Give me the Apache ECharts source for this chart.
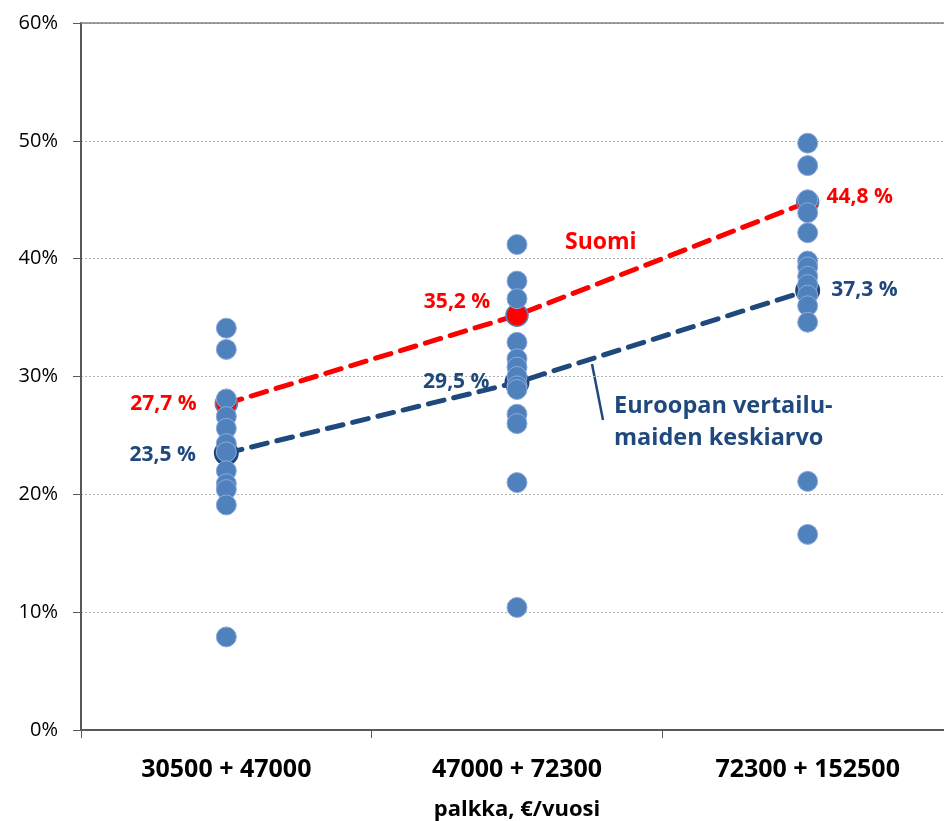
<!DOCTYPE html>
<html><head><meta charset="utf-8">
<script src="https://cdn.jsdelivr.net/npm/echarts@6/dist/echarts.min.js"></script>
<style>html,body{margin:0;padding:0;background:#fff}#c{width:944px;height:821px}</style>
</head><body><div id="c"></div>
<script>
const categories = ['30500 + 47000', '47000 + 72300', '72300 + 152500'];
const yTicks = [0, 10, 20, 30, 40, 50, 60];
const countries1 = [34.1, 32.3, 28.1, 26.6, 25.6, 24.3, 23.6, 22.0, 20.9, 20.4, 19.1, 7.9];
const countries2 = [41.2, 38.1, 36.6, 32.9, 31.5, 30.8, 30.0, 29.2, 28.9, 26.8, 26.0, 21.0, 10.4];
const countries3 = [49.8, 47.9, 45.0, 43.9, 42.2, 39.8, 39.3, 38.5, 37.8, 36.9, 36.0, 34.6, 21.1, 16.6];
const finland = [27.7, 35.2, 44.8];
const europeAvg = [23.5, 29.5, 37.3];
const fmt = v => v.toFixed(1).replace('.', ',') + ' %';

const font = '"Open Sans", "Noto Sans", sans-serif';
const RED = '#FF0000', NAVY = '#1F497D', BLUE = '#4F81BD';

const dots = [];
[countries1, countries2, countries3].forEach((arr, i) => arr.forEach(v => dots.push([categories[i], v])));

const finLabelPos = [{position:'left', distance:18, offset:[0,0]}, {position:'left', distance:15, offset:[0,-13]}, {position:'right', distance:7, offset:[0,-5]}];
const eurLabelPos = [{position:'left', distance:18, offset:[0,2]}, {position:'left', distance:15, offset:[0,0]}, {position:'right', distance:11, offset:[0,0]}];

const chart = echarts.init(document.getElementById('c'));
chart.setOption({
  animation: false,
  grid: {left: 81, top: 23, width: 872, height: 707, outerBoundsMode: 'none', containLabel: false},
  xAxis: {
    type: 'category', data: categories, boundaryGap: true,
    axisLine: {lineStyle: {color: '#595959', width: 2}},
    axisTick: {show: true, length: 8, lineStyle: {color: '#595959', width: 1}},
    axisLabel: {color: '#000', fontFamily: font, fontWeight: 'bold', fontSize: 25, margin: 27},
    name: 'palkka, €/vuosi', nameLocation: 'middle', nameGap: 69,
    nameTextStyle: {color: '#000', fontFamily: font, fontWeight: 'bold', fontSize: 22}
  },
  yAxis: {
    type: 'value', min: 0, max: 60, interval: 10,
    axisLine: {show: true, lineStyle: {color: '#595959', width: 2}},
    axisTick: {show: true, length: 8, lineStyle: {color: '#595959', width: 1}},
    axisLabel: {color: '#000', fontFamily: font, fontSize: 20, margin: 23, formatter: v => yTicks.includes(v) ? v + '%' : ''},
    splitLine: {show: true, lineStyle: {color: '#b0b0b0', type: [2, 2], width: 1}}
  },
  series: [
    {type: 'line', data: finland.map((v, i) => [categories[i], v]), symbol: 'none', z: 2,
     lineStyle: {color: RED, width: 5, type: [16, 10], cap: 'round'}},
    {type: 'line', data: europeAvg.map((v, i) => [categories[i], v]), symbol: 'none', z: 2,
     lineStyle: {color: NAVY, width: 5, type: [16, 10], cap: 'round'}},
    {type: 'scatter', z: 3, symbol: 'circle', symbolSize: 22,
     itemStyle: {color: RED, borderColor: BLUE, borderWidth: 1.5, opacity: 1},
     data: finland.map((v, i) => ({value: [categories[i], v],
       label: {show: true, formatter: fmt(v), color: RED, fontFamily: font, fontWeight: 'bold', fontSize: 21, ...finLabelPos[i]}}))},
    {type: 'scatter', z: 3, symbol: 'circle', symbolSize: 22,
     itemStyle: {color: BLUE, borderColor: NAVY, borderWidth: 3, opacity: 1},
     data: europeAvg.map((v, i) => ({value: [categories[i], v],
       label: {show: true, formatter: fmt(v), color: NAVY, fontFamily: font, fontWeight: 'bold', fontSize: 21, ...eurLabelPos[i]}}))},
    {type: 'scatter', z: 4, symbol: 'circle', symbolSize: 20,
     itemStyle: {color: BLUE, borderColor: '#8eaadb', borderWidth: 1, opacity: 1},
     data: dots}
  ],
  graphic: [
    {type: 'line', shape: {x1: 81, y1: 23, x2: 944, y2: 23}, style: {stroke: '#808080', lineWidth: 1.5}, z: 1},
    {type: 'text', left: 565, top: 231, style: {text: 'Suomi', fill: RED, font: 'bold 23px ' + font}},
    {type: 'line', shape: {x1: 592, y1: 364, x2: 603, y2: 420}, style: {stroke: NAVY, lineWidth: 2.5}},
    {type: 'text', left: 614, top: 390, style: {text: 'Euroopan vertailu-\nmaiden keskiarvo', fill: NAVY, font: 'bold 23.5px ' + font, lineHeight: 32}}
  ]
});
</script></body></html>
